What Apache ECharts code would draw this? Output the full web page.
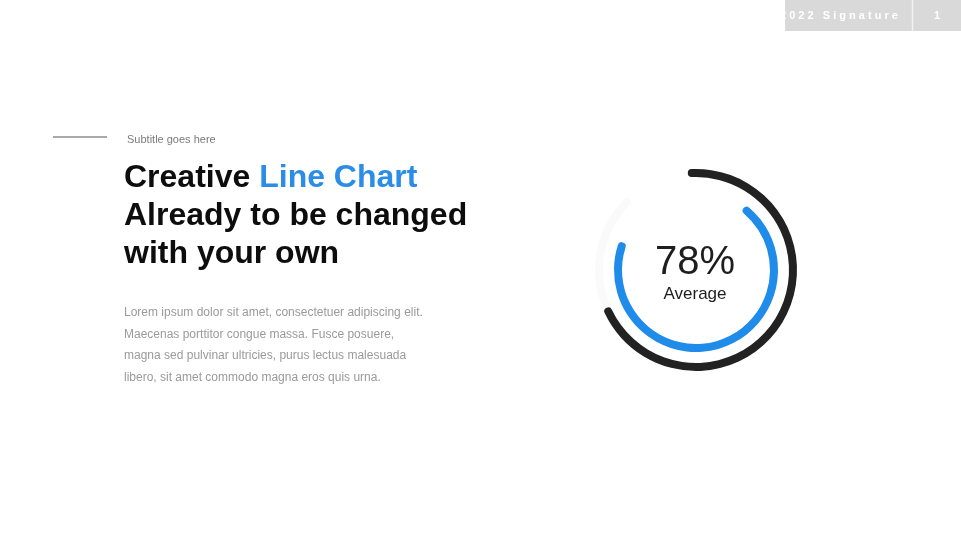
<!DOCTYPE html>
<html>
<head>
<meta charset="utf-8">
<script src="https://cdn.jsdelivr.net/npm/echarts@6/dist/echarts.min.js"></script>
<style>
html,body{margin:0;padding:0;background:#fff;}
#main{width:961px;height:540px;}
</style>
</head>
<body>
<div id="main"></div>
<script>
// ---- data ----
var gaugeNames = ['Outer', 'Average'];
var gaugeValues = [78, 78];
var centerLabel = '78%';
var centerSub = 'Average';
var subtitle = 'Subtitle goes here';
var titleLines = [['Creative ', 'Line Chart'], ['Already to be changed'], ['with your own']];
var bodyLines = [
  'Lorem ipsum dolor sit amet, consectetuer adipiscing elit.',
  'Maecenas porttitor congue massa. Fusce posuere,',
  'magna sed pulvinar ultricies, purus lectus malesuada',
  'libero, sit amet commodo magna eros quis urna.'
];
var headerText = '2 0 2 2   S i g n a t u r e';
var pageNumber = '1';

var chart = echarts.init(document.getElementById('main'), null, {renderer: 'canvas'});
var FONT = 'Liberation Sans, Arial, Helvetica, sans-serif';
var SPAN = 317;

function gauge(name, value, radius, start, color, track) {
  return {
    type: 'gauge',
    name: name,
    center: [696, 270],
    radius: radius,
    startAngle: start,
    endAngle: start - SPAN,
    min: 0, max: 100,
    pointer: {show: false},
    progress: {show: true, roundCap: true, width: 8, itemStyle: {color: color}},
    axisLine: {roundCap: true, lineStyle: {width: 8, color: [[1, track]]}},
    axisTick: {show: false}, splitLine: {show: false}, axisLabel: {show: false},
    title: {show: false}, detail: {show: false},
    silent: true,
    animation: false,
    data: [{value: value, name: name}]
  };
}

var graphics = [];
// header
graphics.push({type: 'rect', shape: {x: 785, y: 0, width: 176, height: 31}, style: {fill: '#d9d9d9'}});
graphics.push({type: 'line', shape: {x1: 912.5, y1: 0, x2: 912.5, y2: 31}, style: {stroke: '#f2f2f2', lineWidth: 1.5}});
graphics.push({type: 'text', x: 780, y: 16, style: {text: headerText, fill: '#ffffff', font: 'bold 11px ' + FONT, verticalAlign: 'middle'}});
graphics.push({type: 'text', x: 937, y: 16, style: {text: pageNumber, fill: '#ffffff', font: 'bold 11px ' + FONT, verticalAlign: 'middle', align: 'center'}});
// subtitle rule
graphics.push({type: 'line', shape: {x1: 53, y1: 137, x2: 107, y2: 137}, style: {stroke: '#8c8c8c', lineWidth: 1.5}});
graphics.push({type: 'text', x: 127, y: 140, style: {text: subtitle, fill: '#7a7a7a', font: '11px ' + FONT, verticalAlign: 'middle'}});
// title
titleLines.forEach(function (parts, i) {
  graphics.push({type: 'text', x: 124, y: 178.5 + i * 38, style: {
    text: parts.map(function (p, j) { return '{' + (j === 1 ? 'b' : 'k') + '|' + p + '}'; }).join(''),
    verticalAlign: 'middle',
    rich: {
      k: {fill: '#0d0d0d', font: 'bold 32px ' + FONT},
      b: {fill: '#2b8de6', font: 'bold 32px ' + FONT}
    }
  }});
});
// body
bodyLines.forEach(function (t, i) {
  graphics.push({type: 'text', x: 124, y: 312.5 + i * 21.7, style: {text: t, fill: '#9a9a9a', font: '12px ' + FONT, verticalAlign: 'middle'}});
});
// center labels
graphics.push({type: 'text', x: 695, y: 263, style: {text: centerLabel, fill: '#1e1e1e', font: '40px ' + FONT, align: 'center', verticalAlign: 'middle'}});
graphics.push({type: 'text', x: 695, y: 294, style: {text: centerSub, fill: '#1e1e1e', font: '17px ' + FONT, align: 'center', verticalAlign: 'middle'}});

chart.setOption({
  backgroundColor: '#ffffff',
  animation: false,
  series: [
    gauge(gaugeNames[0], gaugeValues[0], 101, 92.5, '#222222', '#fafafa'),
    gauge(gaugeNames[1], gaugeValues[1], 82, 49.5, '#1f8cea', 'rgba(0,0,0,0)')
  ],
  graphic: graphics
});
</script>
</body>
</html>
